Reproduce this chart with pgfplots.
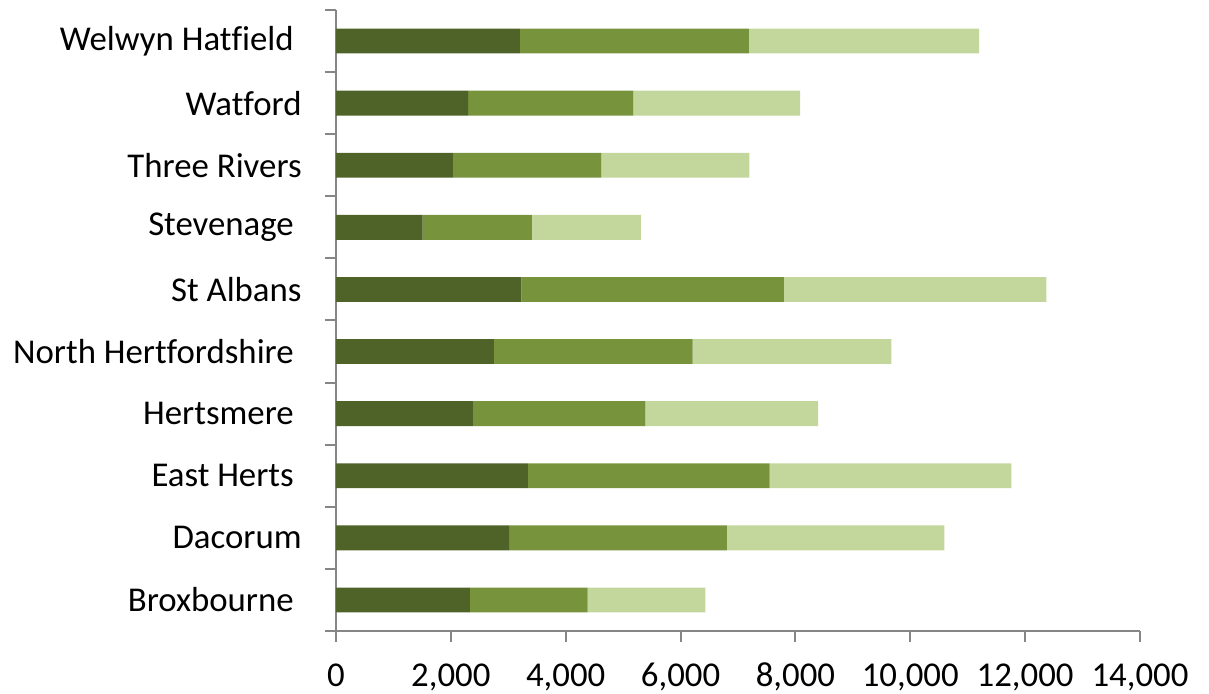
\documentclass[border=0pt]{standalone}
\usepackage{pgfplots}
\pgfplotsset{compat=1.18}
\usepackage{fontspec}
\setmainfont[Ligatures=NoCommon]{Carlito}
\definecolor{dk}{HTML}{4F6228}
\definecolor{md}{HTML}{77933C}
\definecolor{lt}{HTML}{C3D69B}
\definecolor{axg}{HTML}{868686}
\newcommand{\tsp}{\hspace*{0.226em}}
\begin{document}
\begin{tikzpicture}
\useasboundingbox (-168pt,-31.5pt) rectangle (436.5pt,315.5pt);
\begin{axis}[
  at={(0,0)}, anchor=south west,
  scale only axis, width=402pt, height=310.5pt,
  xbar stacked, bar width=0.4,
  xmin=0, xmax=14000, ymin=-0.5, ymax=9.5,
  axis lines*=left,
  axis line style={draw=axg, line width=1pt},
  xtick={0,2000,...,14000},
  scaled x ticks=false,
  /pgf/number format/1000 sep={,},
  /pgf/number format/assume math mode=true,
  ytick={0,...,9},
  yticklabels={Broxbourne\tsp,Dacorum,East Herts\tsp,Hertsmere\tsp,North Hertfordshire\tsp,St Albans,Stevenage\tsp,Three Rivers,Watford,Welwyn Hatfield\tsp},
  minor ytick={-0.5,0.5,...,9.5},
  tick align=outside,
  major tick length=5.5pt, minor tick length=5.5pt,
  tick style={draw=axg, line width=1pt},
  every major y tick/.append style={draw=none},
  tick label style={font=\fontsize{17.4}{20}\selectfont, text=black},
  yticklabel style={anchor=east, inner sep=0pt, xshift=-11.5pt},
  xticklabel style={anchor=north, inner sep=0pt, text height=11pt, text depth=3pt, yshift=-11pt},
]
\addplot[fill=dk, draw=none] coordinates {
(2330,0) (3015,1) (3340,2) (2385,3) (2750,4) (3230,5) (1510,6) (2050,7) (2300,8) (3200,9)};
\addplot[fill=md, draw=none] coordinates {
(2050,0) (3790,1) (4210,2) (3000,3) (3460,4) (4570,5) (1900,6) (2570,7) (2880,8) (3990,9)};
\addplot[fill=lt, draw=none] coordinates {
(2050,0) (3790,1) (4210,2) (3010,3) (3460,4) (4570,5) (1900,6) (2580,7) (2900,8) (4010,9)};
\end{axis}
\end{tikzpicture}
\end{document}
